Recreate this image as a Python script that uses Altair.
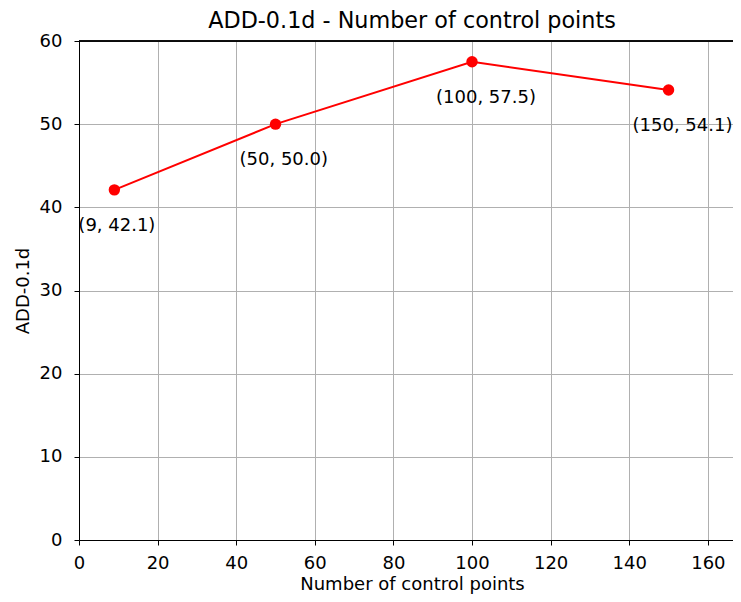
import altair as alt
import pandas as pd

control_points = [9, 50, 100, 150]
add_values = [42.1, 50.0, 57.5, 54.1]
x_ticks = [0, 20, 40, 60, 80, 100, 120, 140, 160]
y_ticks = [0, 10, 20, 30, 40, 50, 60]
chart_title = "ADD-0.1d - Number of control points"

df = pd.DataFrame({
    "x": control_points,
    "y": add_values,
    "label": [f"({x}, {y:.1f})" for x, y in zip(control_points, add_values)],
})

FONT = "DejaVu Sans"
RED = "#ff0000"
W, H = 654, 499

x_enc = alt.X(
    "x:Q",
    scale=alt.Scale(domain=[0, 166.4], nice=False, zero=False),
    axis=alt.Axis(
        values=x_ticks, title="Number of control points", format="d",
        labelBaseline="alphabetic", labelPadding=23, labelFlush=False,
        titleX=333, titleY=49, titleBaseline="alphabetic",
    ),
)
y_enc = alt.Y(
    "y:Q",
    scale=alt.Scale(domain=[0, 60], nice=False),
    axis=alt.Axis(
        values=y_ticks, title="ADD-0.1d", format="d",
        labelBaseline="middle", labelPadding=12, labelFlush=False,
        titleX=-51, titleY=249.5, titleBaseline="alphabetic",
    ),
)

base = alt.Chart(df)
line = base.mark_line(color=RED, strokeWidth=2).encode(x=x_enc, y=y_enc)
points = base.mark_circle(color=RED, size=130, opacity=1).encode(x="x:Q", y="y:Q")
labels = base.mark_text(
    align="left", baseline="alphabetic", dx=-36, dy=41,
    font=FONT, fontSize=18, color="#000000",
).encode(x="x:Q", y="y:Q", text="label:N")
top_spine = base.mark_rule(color="#000000", strokeWidth=1).encode(y=alt.datum(60))
title_text = alt.Chart(pd.DataFrame({"t": [chart_title]})).mark_text(
    align="center", baseline="alphabetic",
    font=FONT, fontSize=22.3, color="#000000",
).encode(x=alt.value(333), y=alt.value(-13), text="t:N")

chart = (
    alt.layer(line, points, labels, top_spine, title_text)
    .properties(
        width=W,
        height=H,
        autosize=alt.AutoSizeParams(type="none"),
        padding={"left": 71, "top": 33, "right": 0, "bottom": 54},
    )
    .configure_view(stroke=None)
    .configure_axis(
        labelFont=FONT, labelFontSize=18, labelColor="#000000",
        titleFont=FONT, titleFontSize=18, titleColor="#000000", titleFontWeight="normal",
        domainColor="#000000", domainWidth=1,
        tickColor="#000000", tickSize=5, tickWidth=1,
        gridColor="#b0b0b0", gridWidth=1, grid=True,
    )
)

chart.save("out.html", embed_options={"renderer": "svg", "actions": False})
